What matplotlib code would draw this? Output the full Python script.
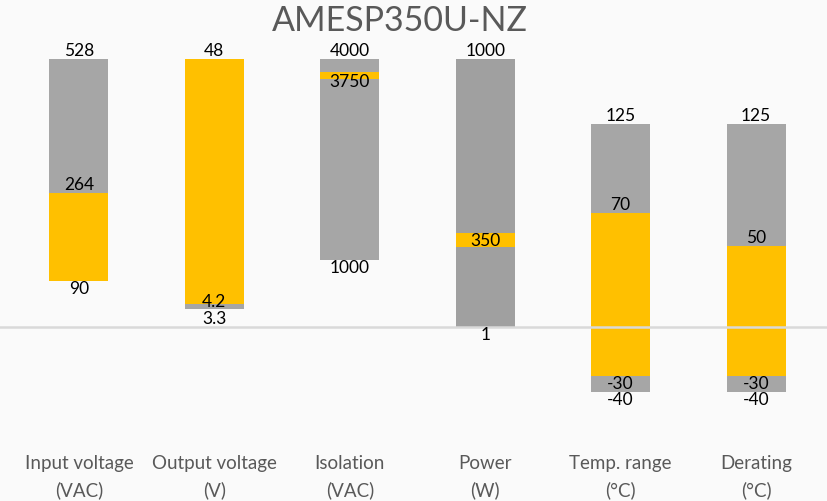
import matplotlib
matplotlib.use("Agg")
import matplotlib.pyplot as plt

plt.rcParams['font.family'] = ['Lato', 'DejaVu Sans']

# categories and their limits
categories = ['Input voltage\n(VAC)', 'Output voltage\n(V)', 'Isolation\n(VAC)',
              'Power\n(W)', 'Temp. range\n(°C)', 'Derating\n(°C)']
full_scale = [528, 48, 4000, 1000, 165, 165]

# segment boundaries (bottom -> top) and segment kind
bounds = [
    [90, 264, 528],
    [3.3, 4.2, 48],
    [1000, 3700, 3800, 4000],
    [1, 300, 350, 1000],
    [-40, -30, 70, 125],
    [-40, -30, 50, 125],
]
kinds = [
    ['o', 'g'],
    ['g', 'o'],
    ['g', 'o', 'g'],
    ['g', 'o', 'g'],
    ['g', 'o', 'g'],
    ['g', 'o', 'g'],
]

# value labels
label_values = [
    [90, 264, 528],
    [3.3, 4.2, 48],
    [1000, 3750, 4000],
    [1, 350, 1000],
    [-40, -30, 70, 125],
    [-40, -30, 50, 125],
]
label_text = [
    ['90', '264', '528'],
    ['3.3', '4.2', '48'],
    ['1000', '3750', '4000'],
    ['1', '350', '1000'],
    ['-40', '-30', '70', '125'],
    ['-40', '-30', '50', '125'],
]
label_va = [
    ['top', 'bottom', 'bottom'],
    ['top', 'center', 'bottom'],
    ['top', 'top', 'bottom'],
    ['top', 'top', 'bottom'],
    ['top', 'top', 'bottom', 'bottom'],
    ['top', 'top', 'bottom', 'bottom'],
]
# small nudges in points
label_dy = [
    [0, 0, 0],
    [-2, 1, 0],
    [0, 1, 0],
    [0, 0, 0],
    [0, 0, 0, 0],
    [0, 0, 0, 0],
]

orange = '#ffc000'
gray = '#a6a6a6'
gray_dark = '#a0a0a0'

fig = plt.figure(figsize=(8.27, 5.01), dpi=100)
fig.patch.set_facecolor('#fafafa')
ax = fig.add_axes([0, 0.1066, 1, 0.829])
ax.set_facecolor('#fafafa')

width = 0.436
for i in range(len(categories)):
    fs = full_scale[i]
    b = bounds[i]
    for j, k in enumerate(kinds[i]):
        if k == 'o':
            c = orange
        else:
            c = gray_dark if i == 3 else gray
        lo = b[j] / fs
        hi = b[j + 1] / fs
        ax.bar(i, hi - lo, width, bottom=lo, color=c, linewidth=0, zorder=2)
    for v, t, va, dy in zip(label_values[i], label_text[i], label_va[i], label_dy[i]):
        ax.annotate(t, (i, v / fs), xytext=(0, dy), textcoords='offset points',
                    ha='center', va=va, fontsize=12.5, color='black', zorder=4)

ax.axhline(0, color='#d9d9d9', lw=1.8, zorder=3)

ax.set_xlim(-0.583, 5.524)
ax.set_ylim(-0.45, 1.1)
ax.set_xticks(range(len(categories)))
ax.set_xticklabels(categories, fontsize=13.5, color='#595959', linespacing=1.65)
ax.tick_params(axis='x', length=0, pad=5)
ax.set_yticks([])
for s in ax.spines.values():
    s.set_visible(False)

fig.text(0.483, 0.958, 'AMESP350U-NZ', ha='center', va='center', fontsize=24.5, color='#595959')

fig.savefig('out.png', dpi=100, facecolor=fig.get_facecolor())
